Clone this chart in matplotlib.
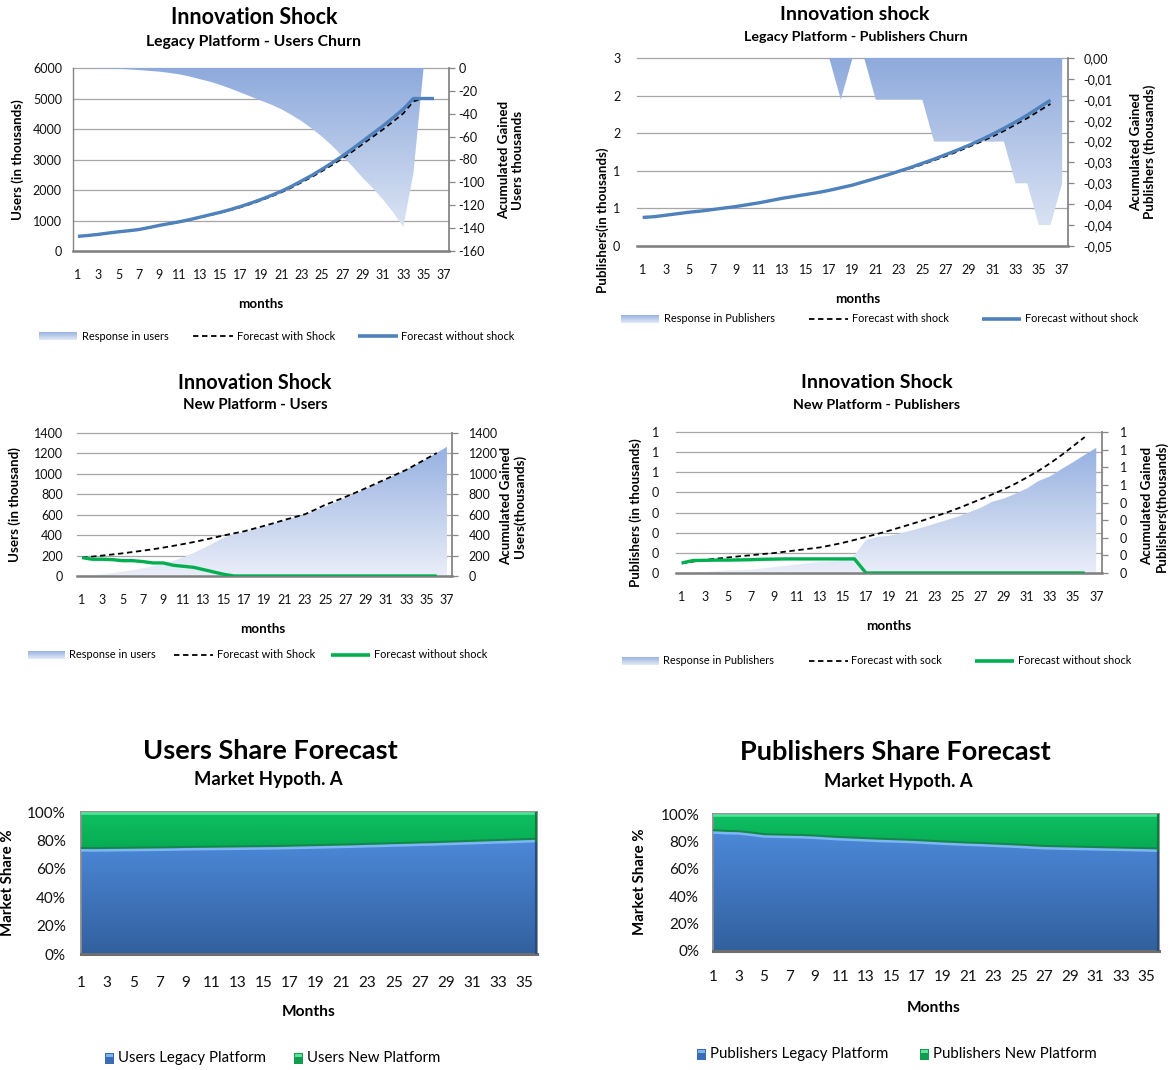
import numpy as np
import matplotlib
matplotlib.use("Agg")
import matplotlib.pyplot as plt
from matplotlib.colors import LinearSegmentedColormap
from matplotlib.patches import Rectangle

plt.rcParams['font.family'] = ['Lato', 'DejaVu Sans']

# ---------------- data ----------------
months = np.arange(1, 38)
month_ticks = list(range(1, 38, 2))
share_ticks = list(range(1, 36, 2))

# Legacy platform - users churn (thousands)
legacy_users_no_shock = [480, 510, 545, 590, 630, 665, 705, 770, 840, 900, 960, 1030,
                         1110, 1190, 1270, 1360, 1460, 1570, 1690, 1820, 1960, 2120,
                         2300, 2480, 2680, 2890, 3110, 3350, 3600, 3850, 4100, 4370,
                         4650, 5000, 5000, 5000]
legacy_users_shock = [480, 510, 545, 590, 629, 664, 703, 767, 837, 896, 954, 1022,
                      1100, 1178, 1255, 1342, 1438, 1545, 1661, 1788, 1924, 2079,
                      2253, 2427, 2620, 2822, 3033, 3264, 3504, 3745, 3985, 4244,
                      4511, 4908, 5000, 5000]
legacy_users_response = [0, 0, -0.2, -0.4, -0.7, -1.2, -1.8, -2.5, -3.2, -4.3, -5.6,
                         -7.5, -9.8, -12, -14.8, -18, -21.5, -25, -28.5, -32, -36, -41,
                         -46.5, -53, -60, -68, -77, -86, -96, -105, -115, -126, -139,
                         -92, 0, 0, 0]

# Legacy platform - publishers churn (thousands)
legacy_pubs_no_shock = [0.38, 0.39, 0.41, 0.43, 0.45, 0.465, 0.485, 0.505, 0.525, 0.55,
                        0.575, 0.605, 0.635, 0.66, 0.685, 0.71, 0.74, 0.775, 0.81, 0.855,
                        0.90, 0.945, 0.995, 1.045, 1.10, 1.155, 1.215, 1.275, 1.34, 1.41,
                        1.485, 1.565, 1.65, 1.74, 1.84, 1.94]
legacy_pubs_shock = [0.38, 0.39, 0.41, 0.43, 0.45, 0.465, 0.485, 0.505, 0.525, 0.55,
                     0.575, 0.605, 0.635, 0.66, 0.685, 0.71, 0.74, 0.775, 0.81, 0.855,
                     0.90, 0.945, 0.99, 1.035, 1.085, 1.14, 1.195, 1.255, 1.32, 1.385,
                     1.455, 1.53, 1.615, 1.70, 1.795, 1.89]
legacy_pubs_response = [0] * 17 + [-0.01, 0, 0] + [-0.01] * 5 + [-0.02] * 7 + \
                       [-0.03, -0.03, -0.04, -0.04, -0.03]

# New platform - users (thousands)
new_users_shock = [180, 190, 200, 211, 222, 235, 248, 262, 278, 295, 313, 332, 353, 375,
                   398, 418, 438, 465, 492, 520, 550, 577, 605, 650, 697, 735, 775, 817,
                   860, 905, 950, 995, 1040, 1095, 1150, 1204]
new_users_no_shock = [180, 164, 164, 160, 150, 150, 141, 128, 128, 105, 95, 85, 62, 39,
                      16, 0] + [0] * 20
new_users_response = [0, 8, 16, 28, 43, 58, 75, 95, 118, 148, 183, 225, 272, 322, 376,
                      410, 430, 458, 485, 515, 545, 572, 600, 640, 680, 722, 765, 808,
                      852, 898, 945, 992, 1040, 1090, 1145, 1205, 1265]

# New platform - publishers (thousands)
new_pubs_shock = [0.048, 0.057, 0.065, 0.071, 0.077, 0.083, 0.088, 0.094, 0.099, 0.106,
                  0.113, 0.120, 0.127, 0.138, 0.150, 0.164, 0.179, 0.194, 0.210, 0.227,
                  0.244, 0.262, 0.281, 0.300, 0.321, 0.344, 0.367, 0.391, 0.416, 0.444,
                  0.475, 0.508, 0.545, 0.586, 0.630, 0.675]
new_pubs_no_shock = [0.05, 0.062, 0.063, 0.064, 0.064, 0.065, 0.066, 0.068, 0.069,
                     0.07, 0.07, 0.07, 0.07, 0.07, 0.07, 0.07] + [0] * 20
new_pubs_response = [0, 0.002, 0.005, 0.01, 0.015, 0.017, 0.019, 0.026, 0.034, 0.041,
                     0.048, 0.056, 0.063, 0.068, 0.074, 0.10, 0.187, 0.205, 0.211, 0.225,
                     0.242, 0.26, 0.28, 0.30, 0.32, 0.345, 0.371, 0.405, 0.423, 0.45,
                     0.48, 0.522, 0.549, 0.59, 0.629, 0.67, 0.71]

# Market share, hypothesis A (%)
users_legacy_share = [74.0, 73.9, 74.0, 74.1, 74.2, 74.3, 74.4, 74.5, 74.7, 74.8, 74.9,
                      75.0, 75.1, 75.2, 75.3, 75.4, 75.6, 75.8, 76.0, 76.2, 76.4, 76.6,
                      76.9, 77.1, 77.4, 77.6, 77.9, 78.1, 78.4, 78.7, 79.0, 79.3, 79.6,
                      79.9, 80.2, 80.5]
users_new_share = [100 - v for v in users_legacy_share]
pubs_legacy_share = [87.5, 87.0, 86.8, 85.8, 84.6, 84.4, 84.2, 84.0, 83.6, 83.0, 82.5,
                     82.1, 81.7, 81.3, 81.0, 80.7, 80.3, 79.8, 79.3, 78.9, 78.5, 78.2,
                     77.8, 77.4, 77.0, 76.5, 76.0, 75.8, 75.6, 75.4, 75.2, 75.0, 74.8,
                     74.6, 74.4, 74.2]
pubs_new_share = [100 - v for v in pubs_legacy_share]

# tick labels
users_left_ticks = [0, 1000, 2000, 3000, 4000, 5000, 6000]
users_right_ticks = [0, -20, -40, -60, -80, -100, -120, -140, -160]
pubs_left_ticks = [0, 0.5, 1.0, 1.5, 2.0, 2.5]
pubs_left_labels = ["0", "1", "1", "2", "2", "3"]
pubs_right_ticks = [0, -0.005, -0.01, -0.015, -0.02, -0.025, -0.03, -0.035, -0.04, -0.045]
pubs_right_labels = ["0,00", "-0,01", "-0,01", "-0,02", "-0,02", "-0,03", "-0,03",
                     "-0,04", "-0,04", "-0,05"]
new_users_ticks = [0, 200, 400, 600, 800, 1000, 1200, 1400]
new_pubs_left_ticks = [0, 0.1, 0.2, 0.3, 0.4, 0.5, 0.6, 0.7]
new_pubs_left_labels = ["0", "0", "0", "0", "0", "1", "1", "1"]
new_pubs_right_ticks = [0, 0.1, 0.2, 0.3, 0.4, 0.5, 0.6, 0.7, 0.8]
new_pubs_right_labels = ["0", "0", "0", "0", "0", "1", "1", "1", "1"]
share_y_ticks = [0, 20, 40, 60, 80, 100]
share_y_labels = ["0%", "20%", "40%", "60%", "80%", "100%"]

# ---------------- figure ----------------
W, H = 1175, 1070
fig = plt.figure(figsize=(W / 100, H / 100), dpi=100)
fig.patch.set_facecolor('white')

BLUE = '#4f81bd'
GREEN = '#00b050'
GRID = '#a6a6a6'
AXIS = '#868686'
TXT = '#111111'
TICK = 9


def px_axes(x0, y0, x1, y1, **kw):
    return fig.add_axes([x0 / W, 1 - y1 / H, (x1 - x0) / W, (y1 - y0) / H], **kw)


def gradient_poly(ax, verts, c_top, c_bot, y_lo, y_hi, zorder=1.5):
    xl, yl = ax.get_xlim(), ax.get_ylim()
    poly = plt.Polygon(verts, closed=True, fc='none', ec='none')
    ax.add_patch(poly)
    cmap = LinearSegmentedColormap.from_list('grad', [c_bot, c_top])
    im = ax.imshow(np.linspace(0, 1, 256).reshape(-1, 1), cmap=cmap, aspect='auto',
                   origin='lower', extent=[xl[0], xl[1], y_lo, y_hi], zorder=zorder,
                   interpolation='bilinear')
    im.set_clip_path(poly)
    ax.set_xlim(*xl)
    ax.set_ylim(*yl)


def shock_panel(box, area, dashed, solid, solid_color, l_lim, l_ticks, l_labels,
                r_lim, r_ticks, r_labels, grad, left_spine, lpad, rpad):
    ax_a = px_axes(*box)
    ax_l = px_axes(*box)
    ax_l.patch.set_visible(False)
    for a in (ax_a, ax_l):
        a.set_xlim(0.5, 37.5)
        for s in a.spines.values():
            s.set_visible(False)
    ax_a.set_ylim(*r_lim)
    ax_l.set_ylim(*l_lim)
    # horizontal gridlines from the primary axis, behind the series
    for t in l_ticks:
        f = (t - l_lim[0]) / (l_lim[1] - l_lim[0])
        ax_a.plot([0, 1], [f, f], transform=ax_a.transAxes, color=GRID, lw=0.9,
                  zorder=0.5, clip_on=False)
    x = months[:len(area)]
    verts = [(x[0], 0)] + list(zip(x, area)) + [(x[-1], 0)]
    gradient_poly(ax_a, verts, grad[0], grad[1], grad[2], grad[3])
    xs = months[:len(solid)]
    ax_l.plot(xs, dashed, color='black', lw=1.3, ls=(0, (3, 2)), zorder=3)
    ax_l.plot(xs, solid, color=solid_color, lw=2.4, zorder=4, solid_capstyle='butt')
    # axes styling
    ax_l.set_yticks(l_ticks, l_labels)
    ax_l.set_xticks(month_ticks, [str(m) for m in month_ticks])
    ax_l.tick_params(axis='y', length=0, labelsize=TICK, pad=lpad, labelcolor=TXT)
    ax_l.tick_params(axis='x', length=0, labelsize=TICK, pad=13, labelcolor=TXT)
    ax_a.yaxis.tick_right()
    ax_a.set_yticks(r_ticks, r_labels)
    ax_a.set_xticks([])
    ax_a.tick_params(axis='y', length=4, width=0.9, color=AXIS, direction='out',
                     pad=rpad, labelsize=TICK, labelcolor=TXT)
    ax_a.spines['right'].set_visible(True)
    ax_a.spines['right'].set(color=AXIS, lw=1.3)
    ax_a.spines['bottom'].set_visible(True)
    ax_a.spines['bottom'].set(color='#7f7f7f', lw=1.8)
    if left_spine:
        ax_a.spines['left'].set_visible(True)
        ax_a.spines['left'].set(color=AXIS, lw=1.0)
    return ax_a, ax_l


def share_panel(box, legacy, new, xpad, ypad):
    ax = px_axes(*box)
    ax.set_xlim(1, 36)
    ax.set_ylim(0, 100)
    x = months[:len(legacy)]
    legacy = np.asarray(legacy, float)
    top = legacy + np.asarray(new, float)
    blue_verts = [(x[0], 0)] + list(zip(x, legacy)) + [(x[-1], 0)]
    green_verts = list(zip(x, legacy)) + list(zip(x[::-1], top[::-1]))
    gradient_poly(ax, blue_verts, '#4c89d9', '#32609e', 0, legacy.max(), zorder=1)
    gradient_poly(ax, green_verts, '#10c064', '#06ab52', legacy.min(), 100, zorder=1)
    # bevel highlights
    ax.plot(x, legacy - 1.0, color='#7db6f4', lw=1.8, zorder=3)
    ax.plot(x, legacy + 0.7, color='#15864a', lw=1.4, zorder=3)
    ax.plot(x, top - 1.0, color='#52e498', lw=1.8, zorder=3)
    ax.plot([36, 36], [0, legacy[-1]], color='#254d83', lw=3, zorder=3)
    ax.plot([36, 36], [legacy[-1], 100], color='#07803c', lw=3, zorder=3)
    for s in ax.spines.values():
        s.set(color='#8c8c8c', lw=1.3)
    ax.spines['bottom'].set(color='#6e6e6e', lw=2.2)
    ax.set_yticks(share_y_ticks, share_y_labels)
    ax.set_xticks(share_ticks, [str(m) for m in share_ticks])
    ax.tick_params(axis='both', length=0, labelsize=11, labelcolor=TXT)
    ax.tick_params(axis='x', pad=xpad)
    ax.tick_params(axis='y', pad=ypad)
    return ax


# ---- panel 1: legacy users churn
shock_panel((73, 68, 449, 251), legacy_users_response, legacy_users_shock,
            legacy_users_no_shock, BLUE, (0, 6000), users_left_ticks,
            [str(t) for t in users_left_ticks], (-160, 0), users_right_ticks,
            [str(t) for t in users_right_ticks],
            ('#8eaadc', '#e6ecf7', -160, 0), True, 8, 3)

# ---- panel 2: legacy publishers churn
shock_panel((637, 58, 1068, 246), legacy_pubs_response, legacy_pubs_shock,
            legacy_pubs_no_shock, BLUE, (0, 2.5), pubs_left_ticks, pubs_left_labels,
            (-0.045, 0), pubs_right_ticks, pubs_right_labels,
            ('#8eaadc', '#e3e9f6', -0.045, 0), False, 12, 7)

# ---- panel 3: new platform users
shock_panel((77, 433, 452, 576), new_users_response, new_users_shock,
            new_users_no_shock, GREEN, (0, 1400), new_users_ticks,
            [str(t) for t in new_users_ticks], (0, 1400), new_users_ticks,
            [str(t) for t in new_users_ticks],
            ('#94afe0', '#eaeef8', 0, 1300), False, 10, 8)

# ---- panel 4: new platform publishers
shock_panel((676, 432, 1102, 573), new_pubs_response, new_pubs_shock,
            new_pubs_no_shock, GREEN, (0, 0.7), new_pubs_left_ticks,
            new_pubs_left_labels, (0, 0.8), new_pubs_right_ticks, new_pubs_right_labels,
            ('#94afe0', '#eaeef8', 0, 0.73), False, 12, 9)

# ---- panels 5 and 6: market share
share_panel((81, 812, 537, 954), users_legacy_share, users_new_share, 16, 11)
share_panel((713, 814, 1159, 951), pubs_legacy_share, pubs_new_share, 14, 10)

# ---------------- text, legends ----------------
ov = fig.add_axes([0, 0, 1, 1], zorder=20)
ov.set_xlim(0, W)
ov.set_ylim(H, 0)
ov.axis('off')


def T(x, y, s, size, bold=True, ha='center', rot=0, ls=1.2):
    ov.text(x, y, s, fontsize=size, fontweight='bold' if bold else 'normal', ha=ha,
            va='center', rotation=rot, color='black', linespacing=ls)


# titles
T(254, 17, "Innovation Shock", 15.5)
T(254, 42, "Legacy Platform - Users Churn", 11.3)
T(855, 15, "Innovation shock", 14)
T(856, 37, "Legacy Platform - Publishers Churn", 10.3)
T(255, 383, "Innovation Shock", 14.2)
T(255, 405, "New Platform - Users", 10.8)
T(877, 383, "Innovation Shock", 14)
T(877, 405, "New Platform - Publishers", 10.3)
T(270, 751, "Users Share Forecast", 19.5)
T(268, 780, "Market Hypoth. A", 13.2)
T(895, 752, "Publishers Share Forecast", 19.5)
T(898, 781, "Market Hypoth. A", 13.2)

AX = 9.6
# axis titles
T(18, 160, "Users (in thousands)", AX, rot=90)
T(511, 160, "Acumulated Gained\nUsers thousands", AX, rot=90, ls=1.2)
T(261, 304, "months", AX)
T(603, 220, "Publishers(in thousands)", AX, rot=90)
T(1143, 152, "Acumulated Gained\nPublishers (thousands)", AX, rot=90, ls=1.2)
T(858, 299, "months", AX)
T(15, 505, "Users (in thousand)", AX, rot=90)
T(513, 506, "Acumulated Gained\nUsers(thousands)", AX, rot=90, ls=1.2)
T(263, 629, "months", AX)
T(636, 513, "Publishers (in thousands)", AX, rot=90)
T(1154, 506, "Acumulated Gained\nPublishers(thousands)", AX, rot=90, ls=1.2)
T(889, 626, "months", AX)
T(8, 883, "Market Share %", 10.8, rot=90)
T(309, 1012, "Months", 11.2)
T(640, 882, "Market Share %", 10.8, rot=90)
T(934, 1008, "Months", 11.2)


def legend_area(x0, x1, y):
    cmap = LinearSegmentedColormap.from_list('lg', ['#9ab3e0', '#e3e9f6'])
    ov.imshow(np.linspace(0, 1, 32).reshape(-1, 1), cmap=cmap, aspect='auto',
              extent=[x0, x1, y + 4, y - 4], zorder=21)
    ov.set_xlim(0, W)
    ov.set_ylim(H, 0)


def legend_line(x0, x1, y, color, dashed=False):
    if dashed:
        ov.plot([x0, x1], [y, y], color=color, lw=1.3, ls=(0, (3, 2)))
    else:
        ov.plot([x0, x1], [y, y], color=color, lw=2.6, solid_capstyle='butt')


def legend_square(x, y, dark, light):
    ov.add_patch(Rectangle((x, y - 5.5), 9, 11, fc=dark, ec='none', zorder=21))
    ov.add_patch(Rectangle((x + 1, y - 4.5), 7, 3, fc=light, ec='none', zorder=22))


LEG = 7.9
# panel 1
legend_area(39, 77, 336)
T(82, 336, "Response in users", LEG, bold=False, ha='left')
legend_line(193, 233, 336, 'black', dashed=True)
T(237, 336, "Forecast with Shock", LEG, bold=False, ha='left')
legend_line(358, 398, 336, BLUE)
T(401, 336, "Forecast without shock", LEG, bold=False, ha='left')
# panel 2
legend_area(621, 659, 319)
T(664, 319, "Response in Publishers", LEG, bold=False, ha='left')
legend_line(809, 848, 319, 'black', dashed=True)
T(852, 319, "Forecast with shock", LEG, bold=False, ha='left')
legend_line(982, 1021, 319, BLUE)
T(1025, 319, "Forecast without shock", LEG, bold=False, ha='left')
# panel 3
legend_area(28, 65, 655)
T(69, 655, "Response in users", LEG, bold=False, ha='left')
legend_line(174, 213, 655, 'black', dashed=True)
T(217, 655, "Forecast with Shock", LEG, bold=False, ha='left')
legend_line(331, 370, 655, GREEN)
T(374, 655, "Forecast without shock", LEG, bold=False, ha='left')
# panel 4
legend_area(622, 659, 661)
T(663, 661, "Response in Publishers", LEG, bold=False, ha='left')
legend_line(809, 848, 661, 'black', dashed=True)
T(851, 661, "Forecast with sock", LEG, bold=False, ha='left')
legend_line(975, 1014, 661, GREEN)
T(1018, 661, "Forecast without shock", LEG, bold=False, ha='left')
# panel 5
legend_square(105, 1058, '#3a6db5', '#7fb3f0')
T(118, 1058, "Users Legacy Platform", 10.8, bold=False, ha='left')
legend_square(294, 1058, '#129c4e', '#5fe39c')
T(307, 1058, "Users New Platform", 10.8, bold=False, ha='left')
# panel 6
legend_square(697, 1054, '#3a6db5', '#7fb3f0')
T(710, 1054, "Publishers Legacy Platform", 10.8, bold=False, ha='left')
legend_square(920, 1054, '#129c4e', '#5fe39c')
T(933, 1054, "Publishers New Platform", 10.8, bold=False, ha='left')

fig.savefig("out.png", dpi=100, facecolor='white')
